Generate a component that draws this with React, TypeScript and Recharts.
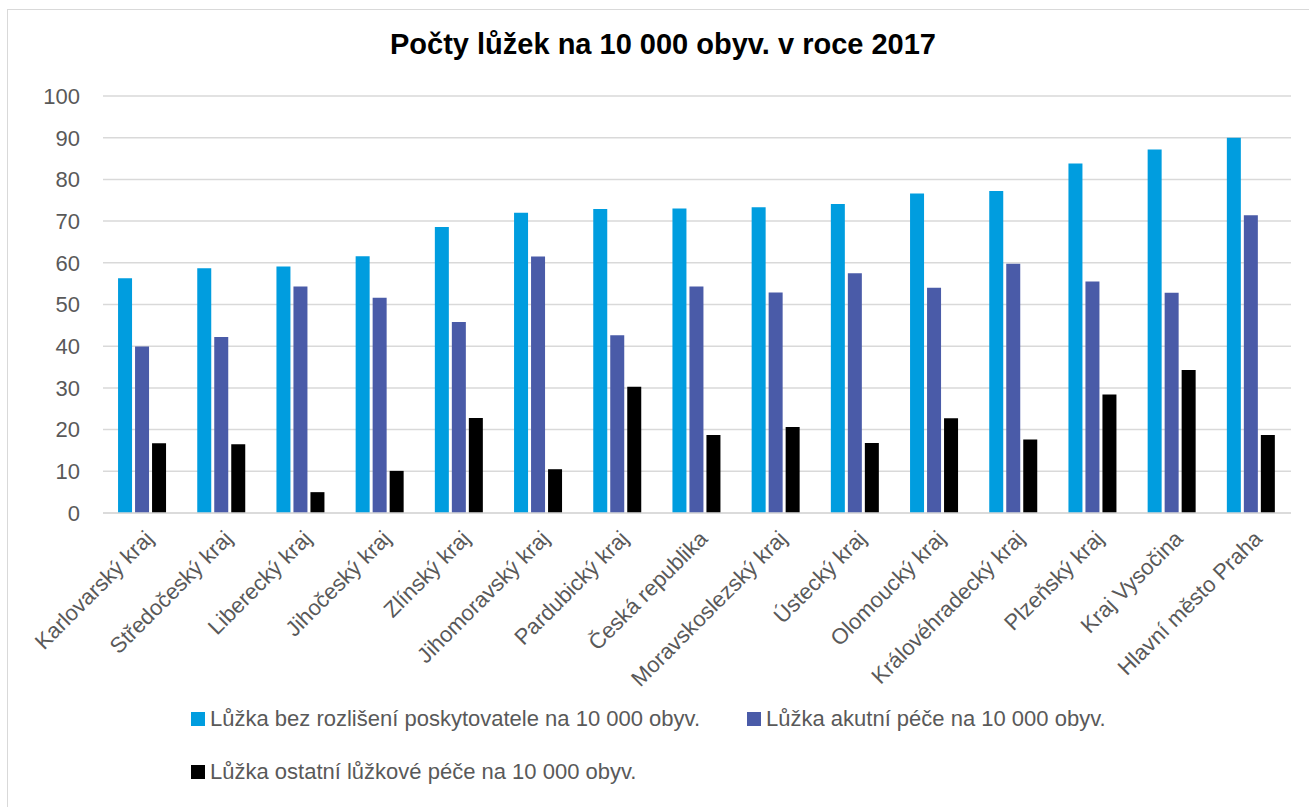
import React from "react";
import { BarChart, Bar, XAxis, YAxis, CartesianGrid, Legend } from "recharts";

const kraje = [
  "Karlovarský kraj",
  "Středočeský kraj",
  "Liberecký kraj",
  "Jihočeský kraj",
  "Zlínský kraj",
  "Jihomoravský kraj",
  "Pardubický kraj",
  "Česká republika",
  "Moravskoslezský kraj",
  "Ústecký kraj",
  "Olomoucký kraj",
  "Královéhradecký kraj",
  "Plzeňský kraj",
  "Kraj Vysočina",
  "Hlavní město Praha",
];
const bezRozliseni = [56.3, 58.7, 59.1, 61.6, 68.6, 72.0, 72.9, 73.0, 73.3, 74.1, 76.6, 77.2, 83.8, 87.2, 90.0];
const akutni = [39.9, 42.2, 54.3, 51.6, 45.8, 61.5, 42.6, 54.3, 52.9, 57.5, 54.0, 59.8, 55.5, 52.8, 71.4];
const ostatni = [16.7, 16.5, 5.0, 10.1, 22.8, 10.5, 30.3, 18.7, 20.6, 16.8, 22.7, 17.6, 28.4, 34.3, 18.7];
const yTicks = [0, 10, 20, 30, 40, 50, 60, 70, 80, 90, 100];

const series = [
  { key: "bez", name: "Lůžka bez rozlišení poskytovatele na 10 000 obyv.", color: "#009DDF" },
  { key: "akut", name: "Lůžka akutní péče na 10 000 obyv.", color: "#4A5BA8" },
  { key: "ost", name: "Lůžka ostatní lůžkové péče na 10 000 obyv.", color: "#000000" },
];

const data = kraje.map((k, i) => ({
  kraj: k,
  bez: bezRozliseni[i],
  akut: akutni[i],
  ost: ostatni[i],
}));

const FONT = "'Liberation Sans', Arial, sans-serif";
const TEXT = "#595959";

const XTick = (props: any) => {
  const { x, y, payload } = props;
  const tx = x + 12;
  const ty = y + 27;
  return (
    <text
      x={tx}
      y={ty}
      transform={`rotate(-45, ${tx}, ${ty})`}
      textAnchor="end"
      fill={TEXT}
      fontSize={22}
      fontFamily={FONT}
    >
      {payload.value}
    </text>
  );
};

// legend spots by series key: row 1 two items, row 2 one
const legendPos: Record<string, { left: number; top: number }> = {
  bez: { left: 191, top: 6 },
  akut: { left: 747, top: 6 },
  ost: { left: 191, top: 59 },
};

const LegendBox = (props: any) => {
  const items = props.payload || [];
  return (
    <div style={{ position: "relative", width: 1309, height: 100 }}>
      {items.map((it: any) => {
        const p = legendPos[it.dataKey] || { left: 0, top: 0 };
        return (
          <div
            key={it.value}
            style={{
              position: "absolute",
              left: p.left,
              top: p.top,
              display: "flex",
              alignItems: "center",
              fontFamily: FONT,
              fontSize: 22,
              color: TEXT,
              whiteSpace: "nowrap",
            }}
          >
            <span style={{ display: "inline-block", width: 14, height: 14, background: it.color, marginRight: 5 }} />
            {it.value}
          </div>
        );
      })}
    </div>
  );
};

export default function App() {
  return (
    <div style={{ position: "absolute", left: 0, top: 0, width: 1309, height: 807, overflow: "hidden", background: "#fff" }}>
      <div
        style={{
          position: "absolute",
          left: 7,
          top: 9,
          width: 1320,
          height: 820,
          border: "1.5px solid #d9d9d9",
        }}
      />
      <div
        style={{
          position: "absolute",
          left: 0,
          top: 28,
          width: 1326,
          textAlign: "center",
          fontFamily: FONT,
          fontWeight: "bold",
          fontSize: 29,
          color: "#000",
        }}
      >
        Počty lůžek na 10 000 obyv. v roce 2017
      </div>
      <div style={{ position: "absolute", left: 0, top: 0 }}>
        <BarChart
          width={1309}
          height={807}
          data={data}
          margin={{ top: 96, right: 18, bottom: 144, left: 0 }}
          barCategoryGap="19%"
          barGap={3}
        >
          <CartesianGrid vertical={false} stroke="#d9d9d9" strokeWidth={1.5} />
          <XAxis
            dataKey="kraj"
            interval={0}
            height={150}
            tickLine={false}
            tickSize={0}
            tickMargin={0}
            axisLine={{ stroke: "#d9d9d9", strokeWidth: 1.5 }}
            tick={<XTick />}
          />
          <YAxis
            width={103}
            domain={[0, 100]}
            ticks={yTicks}
            axisLine={false}
            tickLine={false}
            tickSize={0}
            tickMargin={23}
            tick={{ fill: TEXT, fontSize: 22, fontFamily: FONT }}
          />
          <Legend
            layout="horizontal"
            verticalAlign="middle"
            align="center"
            wrapperStyle={{ top: 700, left: 0, width: 1309, height: 100 }}
            content={<LegendBox />}
          />
          {series.map((s) => (
            <Bar key={s.key} dataKey={s.key} name={s.name} fill={s.color} isAnimationActive={false} />
          ))}
        </BarChart>
      </div>
    </div>
  );
}
